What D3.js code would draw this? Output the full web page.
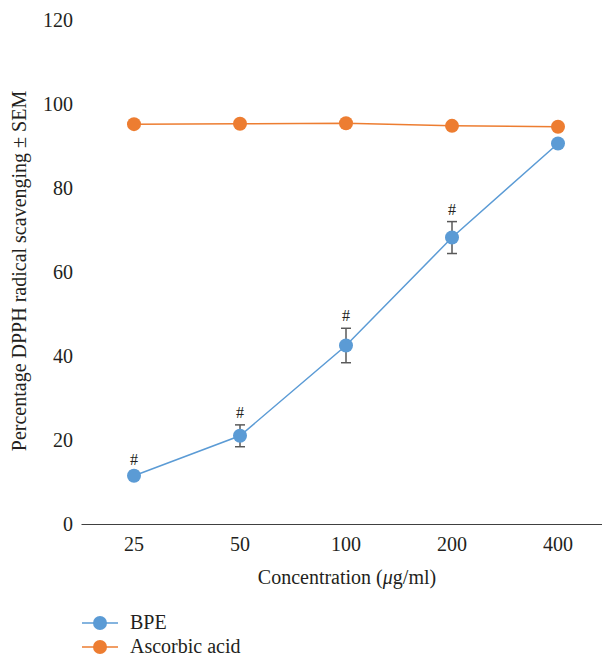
<!DOCTYPE html>
<html>
<head>
<meta charset="utf-8">
<script src="https://cdn.jsdelivr.net/npm/d3@7"></script>
<style>
  body { margin: 0; background: #fff; }
</style>
</head>
<body>
<div id="chart"></div>
<script>
"use strict";

const categories = ["25", "50", "100", "200", "400"];
const bpe = [11.5, 21.0, 42.5, 68.2, 90.6];
const bpe_sem = [1.0, 2.6, 4.1, 3.8, 0.8];
const bpe_sig = ["#", "#", "#", "#", ""];
const ascorbic = [95.2, 95.3, 95.4, 94.8, 94.6];
const y_ticks = [0, 20, 40, 60, 80, 100, 120];

const width = 602, height = 658;
const blue = "#5b9bd5", orange = "#ed7d31";
const font = "'Liberation Serif', 'Times New Roman', serif";
const ink = "#231f20";

const svg = d3.select("#chart").append("svg")
    .attr("width", width)
    .attr("height", height)
    .style("font-family", font);

const x = d3.scaleBand().domain(categories).range([81, 611]);
const y = d3.scaleLinear().domain([0, 120]).range([524, 20]);
const cx = (c) => x(c) + x.bandwidth() / 2;

const styleText = function(sel){
    sel.style("font-family", font)
        .style("font-size", "20px")
        .attr("fill", ink);
};

// y axis, labels only
const yAxis = svg.append("g")
    .attr("transform", "translate(73,0)")
    .call(d3.axisLeft(y).tickValues(y_ticks).tickSize(0).tickPadding(0));
yAxis.select(".domain").remove();
yAxis.selectAll("text").call(styleText);

// x axis
const xAxis = svg.append("g")
    .attr("transform", "translate(0," + y(0) + ")")
    .call(d3.axisBottom(x).tickSize(0).tickPadding(13));
xAxis.select(".domain").attr("stroke", "#404040").attr("stroke-width", 1.2);
xAxis.selectAll("text").call(styleText);

svg.append("text")
    .attr("x", 347).attr("y", 584)
    .attr("text-anchor", "middle")
    .call(styleText)
    .html("Concentration (<tspan font-style='italic'>μ</tspan>g/ml)");

svg.append("text")
    .attr("transform", "translate(26,271) rotate(-90)")
    .attr("text-anchor", "middle")
    .call(styleText)
    .text("Percentage DPPH radical scavenging ± SEM");

const line = d3.line()
    .x((d, i) => cx(categories[i]))
    .y((d) => y(d));

// ascorbic acid
svg.append("path")
    .datum(ascorbic)
    .attr("d", line)
    .attr("fill", "none")
    .attr("stroke", orange)
    .attr("stroke-width", 1.5);
svg.selectAll(".dot-asc")
    .data(ascorbic)
    .enter().append("circle")
    .attr("cx", (d, i) => cx(categories[i]))
    .attr("cy", (d) => y(d))
    .attr("r", 7)
    .attr("fill", orange);

// BPE
svg.append("path")
    .datum(bpe)
    .attr("d", line)
    .attr("fill", "none")
    .attr("stroke", blue)
    .attr("stroke-width", 1.5);

const err = svg.append("g").attr("stroke", "#595959").attr("stroke-width", 1.5);
bpe.forEach((v, i) => {
    const px = cx(categories[i]);
    const top = y(v + bpe_sem[i]), bot = y(v - bpe_sem[i]);
    err.append("line").attr("x1", px).attr("x2", px).attr("y1", top).attr("y2", bot);
    err.append("line").attr("x1", px - 5).attr("x2", px + 5).attr("y1", top).attr("y2", top);
    err.append("line").attr("x1", px - 5).attr("x2", px + 5).attr("y1", bot).attr("y2", bot);
});

svg.selectAll(".dot-bpe")
    .data(bpe)
    .enter().append("circle")
    .attr("cx", (d, i) => cx(categories[i]))
    .attr("cy", (d) => y(d))
    .attr("r", 7)
    .attr("fill", blue);

svg.selectAll(".sig")
    .data(bpe)
    .enter().append("text")
    .attr("x", (d, i) => cx(categories[i]))
    .attr("y", (d, i) => y(d + bpe_sem[i]) - 7)
    .attr("text-anchor", "middle")
    .style("font-family", font)
    .style("font-size", "16px")
    .attr("fill", ink)
    .text((d, i) => bpe_sig[i]);

// legend
const legendItems = [
    {name: "BPE", color: blue},
    {name: "Ascorbic acid", color: orange}
];
const legend = svg.append("g");
legendItems.forEach((item, i) => {
    const ly = 623 + i * 24;
    legend.append("line")
        .attr("x1", 82).attr("x2", 118)
        .attr("y1", ly).attr("y2", ly)
        .attr("stroke", item.color).attr("stroke-width", 1.5);
    legend.append("circle")
        .attr("cx", 100).attr("cy", ly).attr("r", 7)
        .attr("fill", item.color);
    legend.append("text")
        .attr("x", 130).attr("y", ly + 6)
        .call(styleText)
        .text(item.name);
});
</script>
</body>
</html>
